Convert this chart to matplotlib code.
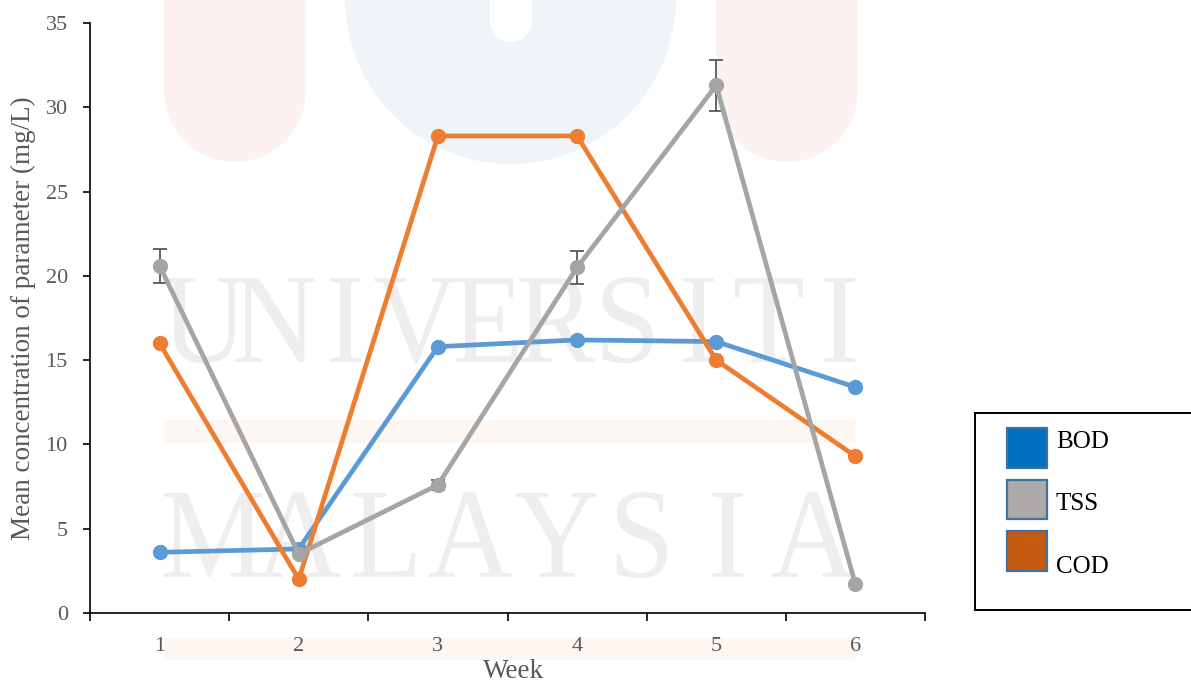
import matplotlib
matplotlib.use("Agg")
import matplotlib.pyplot as plt
import numpy as np
from matplotlib.patches import Rectangle, PathPatch
from matplotlib.textpath import TextPath
from matplotlib.font_manager import FontProperties
from matplotlib.transforms import Affine2D
from matplotlib.ticker import FixedLocator

plt.rcParams['font.family'] = ['Liberation Serif', 'DejaVu Serif']

# ---- data ----
weeks = [1, 2, 3, 4, 5, 6]
week_labels = ["1", "2", "3", "4", "5", "6"]
bod = [3.6, 3.8, 15.8, 16.2, 16.1, 13.4]
tss = [20.6, 3.5, 7.6, 20.5, 31.3, 1.7]
tss_err = [1.0, 0.0, 0.3, 1.0, 1.5, 0.0]
cod = [16.0, 2.0, 28.3, 28.3, 15.0, 9.3]
series_names = ["BOD", "TSS", "COD"]

W, H = 1191, 683
fig = plt.figure(figsize=(W / 100, H / 100), dpi=100)
fig.patch.set_facecolor("white")


def px_rect(x0, y0, x1, y1):
    """Figure-fraction rectangle from pixel coords (y measured from top)."""
    return (x0 / W, 1 - y1 / H), (x1 - x0) / W, (y1 - y0) / H


# ---- faint background watermark ----
wm_red = "#FDF2F2"
wm_blue = "#EFF4F9"
wm_orange = "#FEF6F0"
wm_grey = "#EEEEEE"


def u_shape(x0, x1, y_bottom, color, z=-5):
    r = (x1 - x0) / 2
    xy, w, h = px_rect(x0, -10, x1, y_bottom - r)
    fig.patches.append(Rectangle(xy, w, h, transform=fig.transFigure,
                                 facecolor=color, edgecolor="none", zorder=z))
    t = np.linspace(np.pi, 2 * np.pi, 60)
    cx, cy = (x0 + x1) / 2, y_bottom - r
    xs = (cx + r * np.cos(t)) / W
    ys = 1 - (cy - r * np.sin(t)) / H
    fig.patches.append(plt.Polygon(np.column_stack([xs, ys]), closed=True,
                                   transform=fig.transFigure,
                                   facecolor=color, edgecolor="none", zorder=z))


u_shape(164, 306, 162, wm_red)
u_shape(716, 858, 162, wm_red)
u_shape(345, 676, 164, wm_blue)
u_shape(490, 532, 42, "white", z=-4.5)

for (y0, y1) in [(420, 443), (638, 660)]:
    xy, w, h = px_rect(164, y0, 855, y1)
    fig.patches.append(Rectangle(xy, w, h, transform=fig.transFigure,
                                 facecolor=wm_orange, edgecolor="none", zorder=-5))

serif = FontProperties(family="Liberation Serif")


def spaced_word(word, x0, x1, ytop, ybot, color):
    paths = [TextPath((0, 0), ch, size=100, prop=serif) for ch in word]
    cap = TextPath((0, 0), "H", size=100, prop=serif).get_extents()
    sy = (ybot - ytop) / cap.height
    widths = [p.get_extents().width for p in paths]
    sx = sy * 0.92
    first_half = widths[0] * sx / 2
    last_half = widths[-1] * sx / 2
    centers = np.linspace(x0 + first_half, x1 - last_half, len(word))
    for p, c in zip(paths, centers):
        e = p.get_extents()
        tr = (Affine2D()
              .translate(-(e.x0 + e.width / 2), -cap.y0)
              .scale(sx, sy)
              .translate(c, H - ybot)
              .scale(1 / W, 1 / H))
        fig.patches.append(PathPatch(tr.transform_path(p), transform=fig.transFigure,
                                     facecolor=color, edgecolor="none", zorder=-4))


spaced_word("UNIVERSITI", 164, 855, 278, 362, wm_grey)
spaced_word("MALAYSIA", 164, 855, 493, 577, wm_grey)

# ---- axes ----
ax = fig.add_axes([90 / W, 1 - 613 / H, (925 - 90) / W, (613 - 23) / H])
ax.set_facecolor("none")
ax.set_zorder(1)

c_bod, c_tss, c_cod = "#5B9BD5", "#A5A5A5", "#ED7D31"
lw, ms = 3.4, 10

ax.plot(weeks, bod, color=c_bod, lw=lw, marker="o", ms=ms, zorder=3)
ax.plot(weeks, cod, color=c_cod, lw=lw, marker="o", ms=ms, zorder=4)
ax.errorbar(weeks, tss, yerr=tss_err, color=c_tss, lw=lw, marker="o", ms=ms,
            ecolor="#595959", elinewidth=1.3, capsize=5, capthick=1.3, zorder=5)

ax.set_xlim(0.5, 6.5)
ax.set_ylim(0, 35)
ax.set_yticks(np.arange(0, 36, 5))
ax.set_xticks(weeks)
ax.set_xticklabels(week_labels)
ax.xaxis.set_minor_locator(FixedLocator(np.arange(0.5, 6.6, 1.0)))

for s in ["top", "right"]:
    ax.spines[s].set_visible(False)
for s in ["left", "bottom"]:
    ax.spines[s].set_linewidth(1.2)
    ax.spines[s].set_color("black")

tick_grey = "#595959"
ax.tick_params(axis="y", which="major", direction="out", length=5, width=1.2,
               labelsize=16, labelcolor=tick_grey, pad=11)
ax.tick_params(axis="x", which="major", length=0, labelsize=16,
               labelcolor=tick_grey, pad=17)
ax.tick_params(axis="x", which="minor", direction="out", length=6, width=1.2)

ax.set_ylabel("Mean concentration of parameter (mg/L)", fontsize=19.5,
              color=tick_grey, labelpad=7)
fig.text((483 + 545) / 2 / W, 1 - 678 / H, "Week", fontsize=19.5,
         color=tick_grey, ha="center", va="baseline")

# ---- legend box ----
xy, w, h = px_rect(975, 413, 1200, 610)
fig.patches.append(Rectangle(xy, w, h, transform=fig.transFigure,
                             facecolor="white", edgecolor="black", lw=1.4, zorder=5))
legend_fill = ["#0070C0", "#AEAAAA", "#C55A11"]
square_rows = [(428, 468), (480, 519), (531, 571)]
text_base = [448, 510, 573]
for name, fc, (y0, y1), yb in zip(series_names, legend_fill, square_rows, text_base):
    xy, w, h = px_rect(1007, y0, 1047, y1)
    fig.patches.append(Rectangle(xy, w, h, transform=fig.transFigure,
                                 facecolor=fc, edgecolor="#41719C", lw=1.6, zorder=6))
    fig.text(1056 / W, 1 - yb / H, name, fontsize=18, color="black",
             ha="left", va="baseline", zorder=7)

fig.savefig("out.png", dpi=100, facecolor="white")
